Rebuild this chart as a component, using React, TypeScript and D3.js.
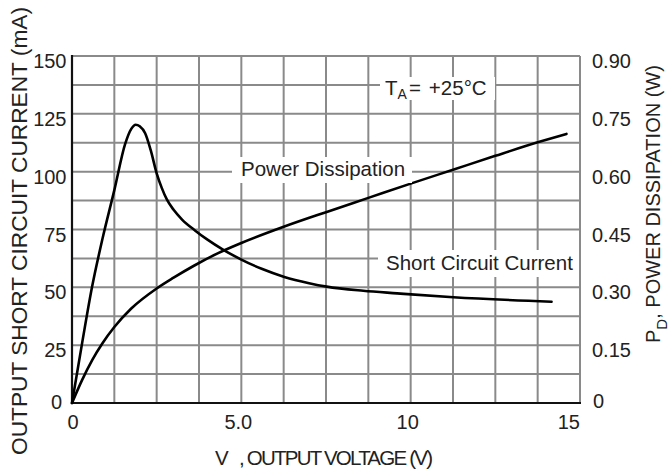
import React from 'react';
import * as d3 from 'd3';

// Short circuit current (mA) vs output voltage (V)
const scVoltage = [0, 0.3, 0.59, 0.9, 1.25, 1.57, 1.75, 1.88, 2.0, 2.16, 2.32, 2.5, 2.65, 2.8, 3.0, 3.25, 3.64, 4.0, 4.47, 5.0, 5.6, 6.27, 7.0, 7.52, 8.6, 9.6, 11.26, 14.16];
const scCurrent = [0, 26, 50, 71, 92, 112, 118.5, 120.3, 119.6, 116.6, 109.5, 99.3, 93, 88, 83.5, 79.3, 74.5, 70.6, 66.2, 62, 58, 54.5, 51.8, 50.3, 48.5, 47.4, 45.7, 43.8];

// Power dissipation (W) vs output voltage (V)
const pdVoltage = [0, 0.3, 0.6, 0.9, 1.25, 1.75, 2.5, 3.0, 3.6, 4.3, 5.0, 6.25, 7.5, 8.75, 10, 11.25, 12.5, 13.75, 14.6];
const pdPower = [0, 0.06, 0.112, 0.155, 0.197, 0.245, 0.297, 0.325, 0.356, 0.388, 0.415, 0.457, 0.495, 0.532, 0.569, 0.605, 0.641, 0.676, 0.698];

const xTickValues = [0, 5, 10, 15];
const xTickLabels = ['0', '5.0', '10', '15'];
const leftTickValues = [0, 25, 50, 75, 100, 125, 150];
const rightTickValues = [0, 0.15, 0.3, 0.45, 0.6, 0.75, 0.9];
const rightTickLabels = ['0', '0.15', '0.30', '0.45', '0.60', '0.75', '0.90'];

const W = 671;
const H = 471;
const L = 72, R = 580, T = 56, B = 403;
const FONT = '"Liberation Sans", Arial, Helvetica, sans-serif';
const GRID = '#8a8a8a';

export default function App() {
  const x = d3.scaleLinear().domain([0, 15]).range([L, R]);
  const yL = d3.scaleLinear().domain([0, 150]).range([B, T]);
  const yR = d3.scaleLinear().domain([0, 0.9]).range([B, T]);
  const gridX = d3.range(0, 15.0001, 1.25);
  const gridY = d3.range(0, 150.0001, 12.5);
  const line = d3.line<[number, number]>().curve(d3.curveMonotoneX);
  const scPath = line(scVoltage.map((v, i) => [x(v), yL(scCurrent[i])] as [number, number])) || '';
  const pdPath = line(pdVoltage.map((v, i) => [x(v), yR(pdPower[i])] as [number, number])) || '';

  return (
    <svg width={W} height={H} style={{ position: 'absolute', left: 0, top: 0, background: '#fff' }} fontFamily={FONT}>
      <rect x={0} y={0} width={W} height={H} fill="#fff" />
      {gridX.map((g, i) => (
        <line key={'gx' + i} x1={x(g)} x2={x(g)} y1={T} y2={B} stroke={GRID} strokeWidth={2} />
      ))}
      {gridY.map((g, i) => (
        <line key={'gy' + i} x1={L} x2={R} y1={yL(g)} y2={yL(g)} stroke={GRID} strokeWidth={2} />
      ))}
      <line x1={L} x2={L} y1={T - 1} y2={B + 1} stroke="#111" strokeWidth={2.2} />
      <line x1={L - 1} x2={R + 1} y1={B} y2={B} stroke="#111" strokeWidth={2.2} />

      {/* curves */}
      <path d={scPath} fill="none" stroke="#000" strokeWidth={2.6} strokeLinejoin="round" strokeLinecap="round" />
      <path d={pdPath} fill="none" stroke="#000" strokeWidth={2.6} strokeLinejoin="round" strokeLinecap="round" />

      {/* annotations with white backgrounds */}
      <rect x={380} y={77} width={115} height={23} fill="#fff" />
      <text x={385} y={95} fontSize={20.5} fill="#222">
        T<tspan fontSize={14} dx={0} dy={4}>A</tspan>
        <tspan dy={-4} dx={2}>=</tspan>
        <tspan dx={8}>+25°C</tspan>
      </text>
      <rect x={232} y={157} width={180} height={26} fill="#fff" />
      <text x={241} y={176} fontSize={20.5} fill="#222">Power Dissipation</text>
      <rect x={378} y={250} width={201} height={27} fill="#fff" />
      <text x={386} y={270} fontSize={20.5} fill="#222">Short Circuit Current</text>

      {/* left ticks */}
      {leftTickValues.map((v, i) => (
        <text key={'lt' + i} x={v === 0 ? 62 : 66.5} y={v === 0 ? yL(v) + 6 : yL(v) + 12} fontSize={20} textAnchor="end" fill="#222">
          {String(v)}
        </text>
      ))}
      {/* right ticks */}
      {rightTickValues.map((v, i) => (
        <text key={'rt' + i} x={v === 0 ? 593 : 592} y={v === 0 ? yR(v) + 5 : yR(v) + 12} fontSize={20} textAnchor="start" fill="#222">
          {rightTickLabels[i]}
        </text>
      ))}
      {/* bottom ticks */}
      {xTickValues.map((v, i) => (
        <text key={'bt' + i} x={i === xTickValues.length - 1 ? x(v) : x(v) + (i === 0 ? 1 : -3)} y={429} fontSize={20}
          textAnchor={i === xTickValues.length - 1 ? 'end' : 'middle'} fill="#222">
          {xTickLabels[i]}
        </text>
      ))}

      {/* axis titles */}
      <text transform="translate(27,231) rotate(-90)" textAnchor="middle" fontSize={21.5} textLength={448}
        lengthAdjust="spacingAndGlyphs" fill="#222">
        OUTPUT SHORT CIRCUIT CURRENT (mA)
      </text>
      <text transform="translate(660,343) rotate(-90)" fontSize={20} fill="#222">
        P<tspan fontSize={15} dy={7}>D</tspan><tspan dy={-7}>, POWER DISSIPATION (W)</tspan>
      </text>
      <text x={215} y={465} fontSize={20.5} fill="#222">V</text>
      <text x={239} y={465} fontSize={20.5} textLength={194} lengthAdjust="spacing" fill="#222">
        , OUTPUT VOLTAGE (V)
      </text>
    </svg>
  );
}
